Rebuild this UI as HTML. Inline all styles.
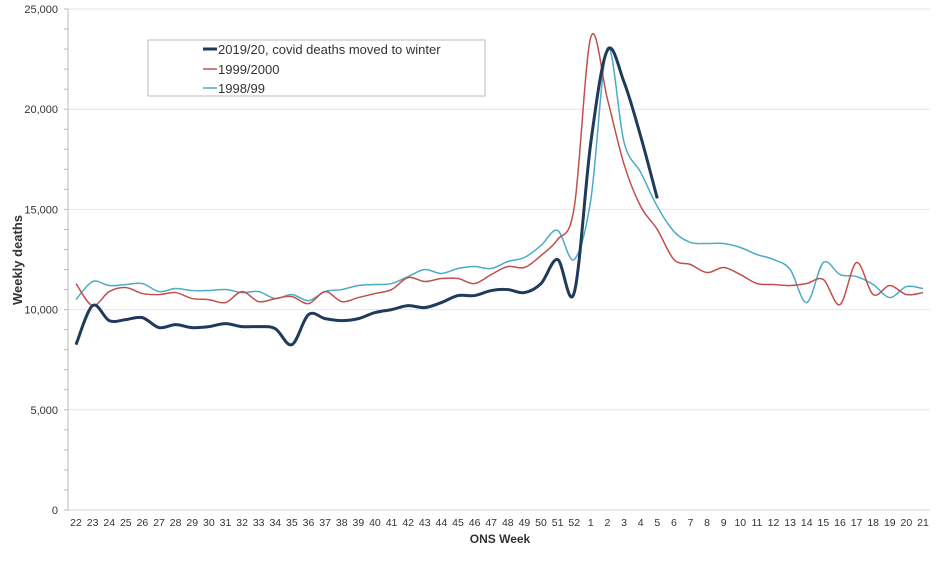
<!DOCTYPE html>
<html><head><meta charset="utf-8"><style>
body{margin:0;background:#fff;font-family:"Liberation Sans",sans-serif}
svg text{font-family:"Liberation Sans",sans-serif}
</style></head><body>
<svg id="chart" width="939" height="558"></svg>
<script>
const weeks=[22,23,24,25,26,27,28,29,30,31,32,33,34,35,36,37,38,39,40,41,42,43,44,45,46,47,48,49,50,51,52,1,2,3,4,5,6,7,8,9,10,11,12,13,14,15,16,17,18,19,20,21];
const s2019=[8250,10200,9450,9500,9600,9100,9250,9100,9150,9300,9150,9150,9050,8250,9750,9550,9450,9550,9850,10000,10200,10100,10350,10700,10700,10950,11000,10850,11300,12500,10850,18350,22950,21350,18650,15550];
const s1999=[11300,10200,10900,11100,10800,10750,10850,10550,10500,10350,10900,10400,10550,10650,10300,10900,10400,10600,10800,11000,11600,11400,11550,11550,11300,11750,12150,12100,12700,13500,15100,23600,20500,17250,15150,14000,12500,12250,11850,12100,11750,11300,11250,11200,11300,11500,10250,12350,10750,11200,10750,10850];
const s1998=[10500,11400,11200,11250,11300,10900,11050,10950,10950,11000,10850,10900,10550,10750,10450,10900,11000,11200,11250,11300,11650,12000,11800,12050,12150,12050,12400,12600,13200,13950,12500,15500,23050,18350,16850,15150,13900,13350,13300,13300,13100,12750,12500,12000,10350,12350,11750,11650,11250,10600,11150,11050];
const yTicks=[0,5000,10000,15000,20000,25000];
const NS='http://www.w3.org/2000/svg';
const svg=document.getElementById('chart');
const X0=76,DX=(923-76)/51,Y0=510,YS=20.04/1000;
const xs=i=>X0+i*DX, ys=v=>Y0-v*YS;
function el(t,a,p){const e=document.createElementNS(NS,t);for(const k in a)e.setAttribute(k,a[k]);(p||svg).appendChild(e);return e;}
// grid
yTicks.forEach(v=>{
 const g=el('line',{x1:68,x2:930,y1:ys(v),y2:ys(v),stroke:v===0?'#d0d0d0':'#e6e6e6','stroke-width':1});
 
 
 const t=el('text',{x:58,y:ys(v)+4,'text-anchor':'end','font-size':11,fill:'#333'});
 t.textContent=v.toLocaleString('en-US');
 
 
});
const ax=el('line',{x1:68,x2:68,y1:9,y2:510,stroke:'#bbb'});


for(let v=0;v<=25000;v+=1000){el('line',{x1:64,x2:68,y1:ys(v),y2:ys(v),stroke:'#bbb'});}
weeks.forEach((w,i)=>{
 const t=el('text',{x:xs(i),y:526,'text-anchor':'middle','font-size':10.5,fill:'#333'});
 t.textContent=w;
 
 
});
function path(arr){
 const p=arr.map((v,i)=>[xs(i),ys(v)]);
 let d='M'+p[0][0]+','+p[0][1];
 for(let i=0;i<p.length-1;i++){
  const a=p[Math.max(0,i-1)],b=p[i],c=p[i+1],e=p[Math.min(p.length-1,i+2)];
  const c1=[b[0]+(c[0]-a[0])/6,b[1]+(c[1]-a[1])/6],c2=[c[0]-(e[0]-b[0])/6,c[1]-(e[1]-b[1])/6];
  d+=`C${c1[0]},${c1[1]} ${c2[0]},${c2[1]} ${c[0]},${c[1]}`;
 }
 return d;
}
const l98=el('path',{d:path(s1998),fill:'none',stroke:'#4bacc6','stroke-width':1.5});


const l99=el('path',{d:path(s1999),fill:'none',stroke:'#c0504d','stroke-width':1.5});


const l19=el('path',{d:path(s2019),fill:'none',stroke:'#1f3a5a','stroke-width':3});


// titles
const yt=el('text',{x:0,y:0,transform:'translate(22,260) rotate(-90)','text-anchor':'middle','font-size':13,'font-weight':'bold',fill:'#333'});
yt.textContent='Weekly deaths';


const xt=el('text',{x:500,y:543,'text-anchor':'middle','font-size':12,'font-weight':'bold',fill:'#333'});
xt.textContent='ONS Week';


// legend
const lg=el('g',{});


el('rect',{x:148,y:40,width:337,height:56,fill:'#fff',stroke:'#bbb'},lg);
[['2019/20, covid deaths moved to winter','#1f3a5a',3,49],['1999/2000','#c0504d',1.5,69],['1998/99','#4bacc6',1.5,88]].forEach(r=>{
 const g=el('g',{},lg);
 
 
 el('line',{x1:203,x2:217,y1:r[3],y2:r[3],stroke:r[1],'stroke-width':r[2]},g);
 const t=el('text',{x:218,y:r[3]+5,'font-size':13,fill:'#333'},g);
 t.textContent=r[0];
});
</script>
</body></html>
